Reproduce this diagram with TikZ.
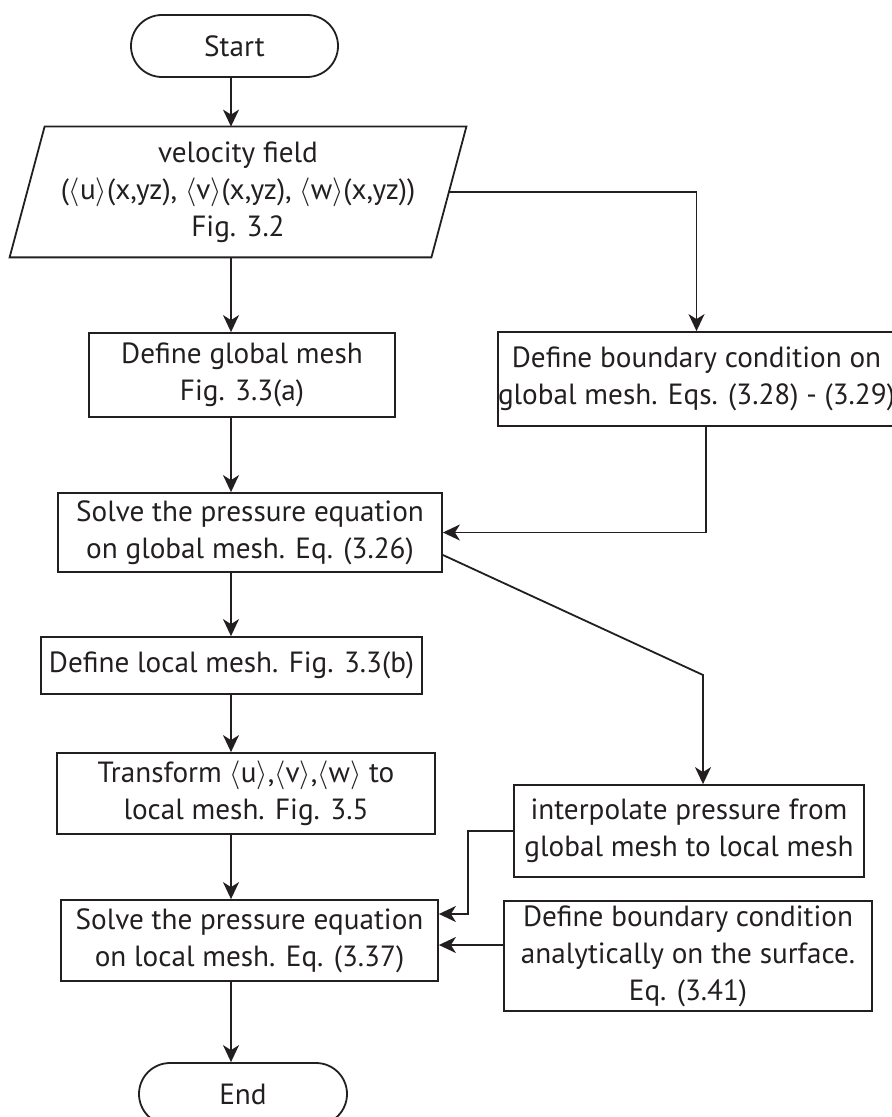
\documentclass[tikz,border=0pt]{standalone}
\usepackage{fontspec}
\setmainfont{PT Sans}
\usetikzlibrary{shapes.misc,arrows.meta,calc}
\definecolor{ink}{HTML}{231F20}
\tikzset{
  line/.style={draw=ink,line width=0.9pt},
  arr/.style={line,-{Stealth[length=8.5pt,width=8pt,inset=2.5pt]}},
  box/.style={line,rectangle,inner sep=0pt,align=center,text=ink,
    font=\fontsize{14.6}{18.5}\selectfont},
  term/.style={box,rounded rectangle},
  txt/.style={rectangle,inner sep=0pt,align=center,text=ink,
    font=\fontsize{14.6}{18.5}\selectfont}
}
\newcommand{\ang}[1]{$\langle$#1$\rangle$}
\begin{document}
\begin{tikzpicture}[x=0.5pt,y=-0.5pt]
\useasboundingbox (0,0) rectangle (892,1117);
\coordinate (axis) at (231,0);
% nodes
\node[term,minimum width=103.5pt,minimum height=31pt] (start) at (234.5,46) {Start};
\node[txt,minimum width=210.5pt,minimum height=65pt] (vel) at (238,192)
  {velocity field\\(\ang{u}(x,yz), \ang{v}(x,yz), \ang{w}(x,yz))\\Fig. 3.2};
\draw[line] ([xshift=8.75pt]vel.north west) -- ([xshift=8.75pt]vel.north east)
  -- ([xshift=-8.75pt]vel.south east) -- ([xshift=-8.75pt]vel.south west) -- cycle;
\node[box,minimum width=153pt,minimum height=42pt] (gm) at (242,375)
  {Define global mesh\\Fig. 3.3(a)};
\node[box,minimum width=198.5pt,minimum height=47pt] (bc) at (696.5,379)
  {Define boundary condition on\\global mesh. Eqs. (3.28) - (3.29)};
\node[box,minimum width=192pt,minimum height=39.5pt] (sg) at (250,532.5)
  {Solve the pressure equation\\on global mesh. Eq. (3.26)};
\node[box,minimum width=190.5pt,minimum height=28.5pt] (lm) at (231.5,665.5)
  {Define local mesh. Fig. 3.3(b)};
\node[box,minimum width=189pt,minimum height=40.5pt] (tr) at (246,793.5)
  {Transform \ang{u},\ang{v},\ang{w} to\\local mesh. Fig. 3.5};
\node[box,minimum width=188.5pt,minimum height=40.5pt] (sl) at (249.5,940.5)
  {Solve the pressure equation\\on local mesh. Eq. (3.37)};
\node[box,minimum width=175pt,minimum height=46pt] (ip) at (689,831)
  {interpolate pressure from\\global mesh to local mesh};
\node[box,minimum width=184pt,minimum height=55pt] (bl) at (688,956)
  {Define boundary condition\\analytically on the surface.\\Eq. (3.41)};
\node[term,minimum width=104pt,minimum height=31pt] (end) at (243,1094) {End};
% helper coordinates
\coordinate (bend) at (703,675);
\coordinate (j1) at (468,914);
% connectors main column
\draw[arr] (start.south -| axis) -- (vel.north -| axis);
\draw[arr] (vel.south -| axis) -- (gm.north -| axis);
\draw[arr] (gm.south -| axis) -- (sg.north -| axis);
\draw[arr] (sg.south -| axis) -- (lm.north -| axis);
\draw[arr] (lm.south -| axis) -- (tr.north -| axis);
\draw[arr] (tr.south -| axis) -- (sl.north -| axis);
\draw[arr] (sl.south -| axis) -- (end.north -| axis);
% side connectors
\draw[arr] (vel.east) -| (bc.north);
\draw[arr] ([xshift=4.75pt]bc.south) |- (sg.east);
\draw[arr] ([yshift=-11.25pt]sg.east) -- (bend) -- (bend |- ip.north);
\draw[arr] (ip.west) -| (j1) -- (j1 -| sl.east);
\draw[arr] ([yshift=5.5pt]bl.west) -- ([yshift=5.5pt]bl.west -| sl.east);
\end{tikzpicture}
\end{document}
